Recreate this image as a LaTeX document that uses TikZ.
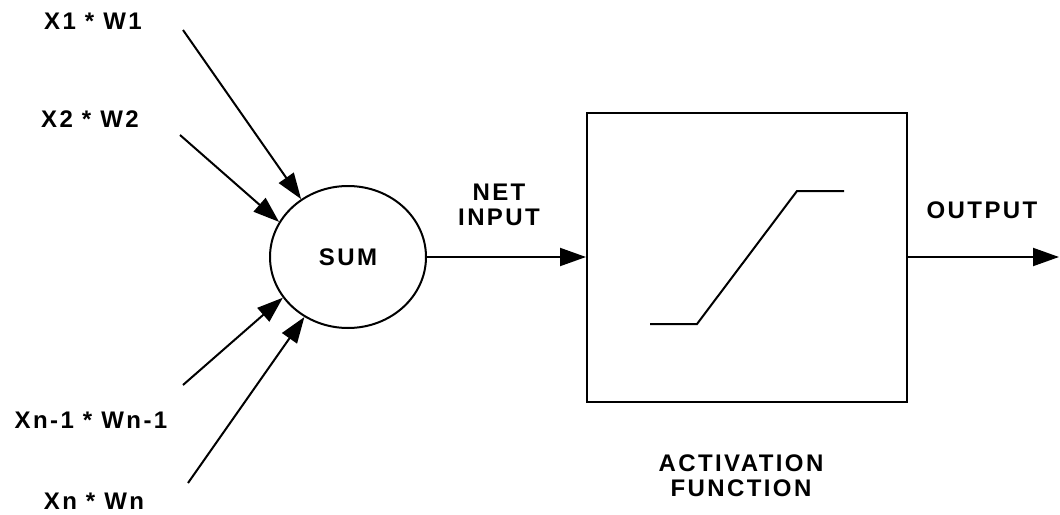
\documentclass[tikz,border=0pt]{standalone}
\usepackage{fontspec}
\setmainfont{Liberation Sans}
\newfontfamily\lblfont{Liberation Sans Bold}[LetterSpace=10]
\usepackage{tikz}
\usetikzlibrary{arrows.meta,positioning,shapes.geometric}

\begin{document}
\begin{tikzpicture}[
    x=1pt, y=-1pt,
    line width=2pt,
    lbl/.style={font=\lblfont\fontsize{24}{25}\selectfont, align=center, inner sep=0pt},
    sumnode/.style={ellipse, draw, minimum width=156pt, minimum height=142pt, inner sep=0pt},
    actbox/.style={rectangle, draw, minimum width=320pt, minimum height=289pt},
    arrow/.style={-{Triangle[length=26pt, width=18pt]}}
]
\useasboundingbox (0,0) rectangle (1060,514);

\node[sumnode, lbl] (sum) at (348,257) {SUM};
\node[actbox] (actfn) at (747,257) {};

% inputs
\node[lbl] (in1) at (93,21) {X1 * W1};
\node[lbl] (in2) at (90,119) {X2 * W2};
\node[lbl] (in3) at (91,420) {Xn-1 * Wn-1};
\node[lbl] (in4) at (94,501) {Xn * Wn};
\coordinate (s1) at (183,30);
\coordinate (s2) at (180,135);
\coordinate (s3) at (183,385);
\coordinate (s4) at (188,483);

\draw[arrow] (s1) -- (sum.129);
\draw[arrow] (s2) -- (sum.153);
\draw[arrow] (s3) -- (sum.212);
\draw[arrow] (s4) -- (sum.234);

% net input and output
\draw[arrow] (sum) -- (actfn);
\node[lbl] (net) at (499,205) {NET\\INPUT};
\coordinate (out) at (1059,257);
\draw[arrow] (actfn) -- (out);
\node[lbl] (outlbl) at (982,210) {OUTPUT};

% activation curve
\draw (650,324) -- (697,324) -- (797,191) -- (844,191);
\node[lbl] (actlbl) at (741,476) {ACTIVATION\\FUNCTION};
\end{tikzpicture}
\end{document}
